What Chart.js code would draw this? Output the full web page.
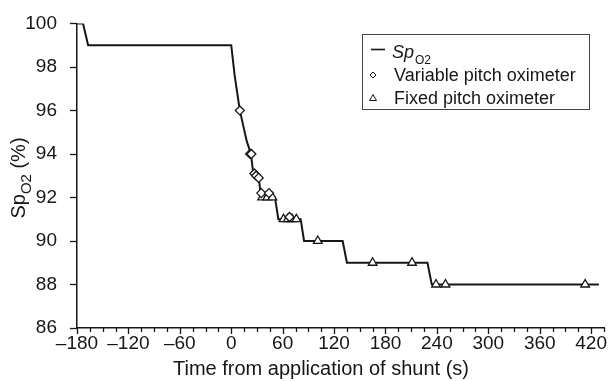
<!DOCTYPE html>
<html>
<head>
<meta charset="utf-8">
<script src="https://cdn.jsdelivr.net/npm/chart.js@4"></script>
<style>
  html, body { margin: 0; padding: 0; background: #fff; }
  #wrap { width: 611px; height: 381px; }
</style>
</head>
<body>
<div id="wrap"><canvas id="spo2Chart" width="611" height="381"></canvas></div>
<script>
// SpO2 trace, time in s from application of shunt
const traceTime = [-180, -173, -167, 0, 4, 10, 18, 23, 26, 32, 35, 51, 55, 81, 85, 130, 135, 229, 234, 429];
const traceSpO2 = [100, 100, 99, 99, 97.6, 96, 94.6, 94, 93, 92.9, 92, 92, 91, 91, 90, 90, 89, 89, 88, 88];

// Variable pitch oximeter readings
const variableTime = [10, 22, 23.5, 27, 29, 32, 35, 44, 68];
const variableSpO2 = [96, 94, 94, 93.1, 93, 92.9, 92.2, 92.2, 91.1];

// Fixed pitch oximeter readings
const fixedTime = [36, 42, 48, 61, 66, 71, 76, 101, 165, 211, 239, 250, 413];
const fixedSpO2 = [92, 92, 92, 91, 91, 91, 91, 90, 89, 89, 88, 88, 88];

// axis ranges / ticks
const xMin = -180, xMax = 435, xMinorStep = 15, xMajorStep = 60;
const yMin = 86, yMax = 100, yStep = 2;

const FONT = '"Liberation Sans", Arial, Helvetica, sans-serif';
const INK = '#161616';

const toPoints = (xs, ys) => xs.map((x, i) => ({ x: x, y: ys[i] }));

// draws tick marks, axis titles and the boxed legend
const decorations = {
  id: 'decorations',
  afterDraw(chart) {
    const ctx = chart.ctx;
    const xs = chart.scales.x;
    const ys = chart.scales.y;
    const area = chart.chartArea;
    ctx.save();
    ctx.strokeStyle = INK;
    ctx.fillStyle = INK;
    ctx.lineWidth = 1.3;

    // x tick marks (major every 60 s, minor every 15 s)
    for (let v = xMin; v <= xMax; v += xMinorStep) {
      const px = Math.round(xs.getPixelForValue(v)) + 0.5;
      const len = (v % xMajorStep === 0) ? 6 : 4;
      ctx.beginPath();
      ctx.moveTo(px, area.bottom);
      ctx.lineTo(px, area.bottom + len);
      ctx.stroke();
    }
    // y tick marks
    for (let v = yMin; v <= yMax; v += yStep) {
      const py = Math.round(ys.getPixelForValue(v)) + 0.5;
      ctx.beginPath();
      ctx.moveTo(area.left - 7, py);
      ctx.lineTo(area.left, py);
      ctx.stroke();
    }

    // x title
    ctx.font = '20px ' + FONT;
    ctx.textAlign = 'center';
    ctx.textBaseline = 'alphabetic';
    ctx.fillText('Time from application of shunt (s)', 321, 375);

    // y title with subscript
    ctx.save();
    ctx.translate(25, 178);
    ctx.rotate(-Math.PI / 2);
    ctx.textAlign = 'left';
    const big = '20px ' + FONT;
    const small = '15px ' + FONT;
    ctx.font = big;
    const wSp = ctx.measureText('Sp').width;
    const wTail = ctx.measureText(' (%)').width;
    ctx.font = small;
    const wSub = ctx.measureText('O2').width;
    const x0 = -(wSp + wSub + wTail) / 2;
    ctx.font = big;
    ctx.fillText('Sp', x0, 0);
    ctx.font = small;
    ctx.fillText('O2', x0 + wSp, 6);
    ctx.font = big;
    ctx.fillText(' (%)', x0 + wSp + wSub, 0);
    ctx.restore();

    // legend box
    ctx.lineWidth = 1;
    ctx.strokeStyle = '#444';
    ctx.strokeRect(362.5, 34.5, 227, 75);

    ctx.strokeStyle = INK;
    ctx.lineWidth = 1.6;
    ctx.beginPath();
    ctx.moveTo(371, 49.5);
    ctx.lineTo(385, 49.5);
    ctx.stroke();

    ctx.textAlign = 'left';
    ctx.font = 'italic 18px ' + FONT;
    ctx.fillText('Sp', 392, 58);
    const wLegSp = ctx.measureText('Sp').width;
    ctx.font = '12px ' + FONT;
    ctx.fillText('O2', 392 + wLegSp + 1, 64);

    ctx.lineWidth = 1;
    // diamond marker
    ctx.beginPath();
    ctx.moveTo(373, 72);
    ctx.lineTo(376, 75);
    ctx.lineTo(373, 78);
    ctx.lineTo(370, 75);
    ctx.closePath();
    ctx.stroke();
    // triangle marker
    ctx.beginPath();
    ctx.moveTo(373, 94.5);
    ctx.lineTo(376.5, 100.5);
    ctx.lineTo(369.5, 100.5);
    ctx.closePath();
    ctx.stroke();

    ctx.font = '18px ' + FONT;
    ctx.fillText('Variable pitch oximeter', 394, 81);
    ctx.fillText('Fixed pitch oximeter', 394, 104);
    ctx.restore();
  }
};

const ctx = document.getElementById('spo2Chart').getContext('2d');
new Chart(ctx, {
  type: 'scatter',
  data: {
    datasets: [
      {
        label: 'Variable pitch oximeter',
        data: toPoints(variableTime, variableSpO2),
        pointStyle: 'rectRot',
        pointRadius: 4.5,
        backgroundColor: '#ffffff',
        borderColor: INK,
        borderWidth: 1.3,
        order: 1
      },
      {
        label: 'Fixed pitch oximeter',
        data: toPoints(fixedTime, fixedSpO2),
        pointStyle: 'triangle',
        pointRadius: 5,
        backgroundColor: '#ffffff',
        borderColor: INK,
        borderWidth: 1.3,
        order: 2
      },
      {
        type: 'line',
        label: 'SpO2',
        data: toPoints(traceTime, traceSpO2),
        borderColor: INK,
        borderWidth: 2,
        pointRadius: 0,
        tension: 0,
        fill: false,
        order: 3
      }
    ]
  },
  options: {
    responsive: false,
    animation: false,
    devicePixelRatio: 1,
    layout: { padding: { top: 20, right: 7, left: 0, bottom: 0 } },
    plugins: {
      legend: { display: false },
      tooltip: { enabled: false }
    },
    scales: {
      x: {
        type: 'linear',
        min: xMin,
        max: xMax,
        afterFit: (scale) => { scale.height = 53; },
        grid: { display: false },
        border: { display: true, color: INK, width: 1.5 },
        ticks: {
          stepSize: xMinorStep,
          autoSkip: false,
          maxRotation: 0,
          padding: -4,
          color: INK,
          font: { family: FONT, size: 19 },
          callback: (v) => (v % xMajorStep === 0) ? (v < 0 ? '\u2013' + Math.abs(v) : String(v)) : ''
        }
      },
      y: {
        type: 'linear',
        min: yMin,
        max: yMax,
        afterFit: (scale) => { scale.width = 77; },
        grid: { display: false },
        border: { display: true, color: INK, width: 1.5 },
        ticks: {
          stepSize: yStep,
          padding: 12,
          color: INK,
          font: { family: FONT, size: 19 }
        }
      }
    }
  },
  plugins: [decorations]
});
</script>
</body>
</html>
